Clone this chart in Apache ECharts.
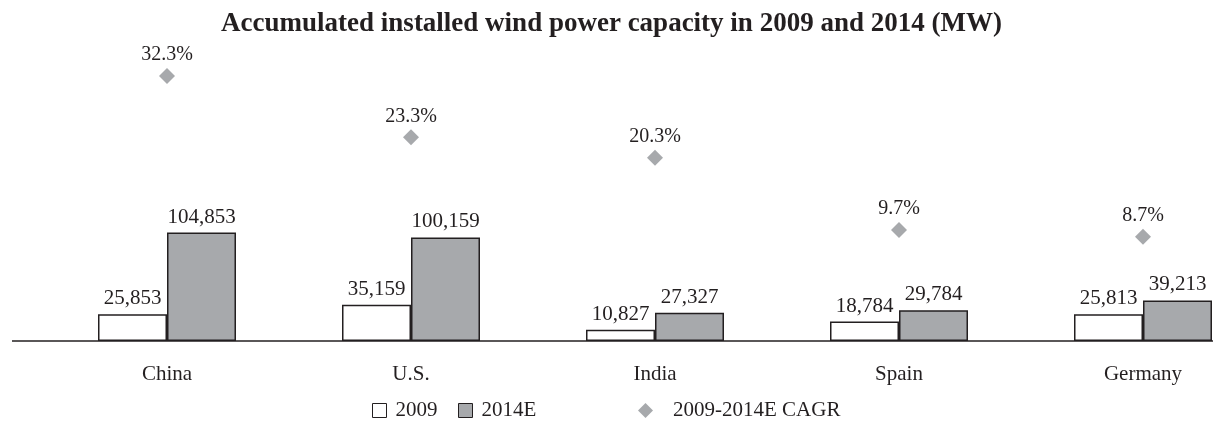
<!DOCTYPE html>
<html>
<head>
<meta charset="utf-8">
<script src="https://cdn.jsdelivr.net/npm/echarts@6/dist/echarts.min.js"></script>
<style>
  html, body { margin: 0; padding: 0; background: #ffffff; }
  #chart { width: 1223px; height: 424px; }
</style>
</head>
<body>
<div id="chart"></div>
<script>
// Accumulated installed wind power capacity (MW) and growth rate
const countries = ['China', 'U.S.', 'India', 'Spain', 'Germany'];
const capacity2009 = [25853, 35159, 10827, 18784, 25813];
const capacity2014E = [104853, 100159, 27327, 29784, 39213];
const cagr = [32.3, 23.3, 20.3, 9.7, 8.7];

const FONT = '"Liberation Serif", "DejaVu Serif", serif';
const INK = '#231f20';
const GREY = '#a7a9ac';

const chart = echarts.init(document.getElementById('chart'), null, { renderer: 'canvas' });

const fmtThousands = v => v.toLocaleString('en-US');

const legendText = { fontFamily: FONT, fontSize: 21, color: INK, padding: [0, 0, 0, 4] };

const option = {
  backgroundColor: '#ffffff',
  animation: false,
  textStyle: { fontFamily: FONT, color: INK },
  title: {
    text: 'Accumulated installed wind power capacity in 2009 and 2014 (MW)',
    left: 'center',
    top: 6,
    textStyle: { fontFamily: FONT, fontWeight: 'bold', fontSize: 27, color: INK }
  },
  legend: [
    {
      left: 372, bottom: 3, padding: 0, itemWidth: 14, itemHeight: 14,
      textStyle: legendText,
      data: [{ name: '2009', icon: 'rect', itemStyle: { borderWidth: 1 } }]
    },
    {
      left: 458, bottom: 3, padding: 0, itemWidth: 14, itemHeight: 14,
      textStyle: legendText,
      data: [{ name: '2014E', icon: 'rect', itemStyle: { borderWidth: 1 } }]
    },
    {
      left: 638, bottom: 3, padding: 0, itemWidth: 15, itemHeight: 15,
      textStyle: Object.assign({}, legendText, { padding: [0, 0, 0, 15] }),
      data: [{ name: '2009-2014E CAGR', icon: 'diamond', itemStyle: { opacity: 1 } }]
    }
  ],
  grid: { left: 167, top: 41, width: 976, height: 300, containLabel: false },
  xAxis: {
    type: 'category',
    data: countries,
    boundaryGap: false,
    axisLine: { show: false },
    axisTick: { show: false },
    axisLabel: { fontFamily: FONT, fontSize: 21, color: INK, margin: 23 }
  },
  yAxis: [
    { type: 'value', min: 0, max: 290000, show: false, splitLine: { show: false } },
    { type: 'value', min: -6.6, max: 37.45, show: false, splitLine: { show: false } }
  ],
  series: [
    {
      name: '2009',
      type: 'bar',
      data: capacity2009,
      barWidth: 69,
      barGap: '0%',
      clip: false,
      itemStyle: { color: '#ffffff', borderColor: INK, borderWidth: 1.5 },
      label: {
        show: true, position: 'top', distance: 5,
        fontFamily: FONT, fontSize: 21, color: INK,
        formatter: p => fmtThousands(p.value)
      }
    },
    {
      name: '2014E',
      type: 'bar',
      data: capacity2014E,
      barWidth: 69,
      barGap: '0%',
      clip: false,
      itemStyle: { color: GREY, borderColor: INK, borderWidth: 1.5 },
      label: {
        show: true, position: 'top', distance: 5,
        fontFamily: FONT, fontSize: 21, color: INK,
        formatter: p => fmtThousands(p.value)
      }
    },
    {
      name: '2009-2014E CAGR',
      type: 'scatter',
      yAxisIndex: 1,
      data: cagr,
      symbol: 'diamond',
      symbolSize: 16,
      clip: false,
      itemStyle: { color: GREY, opacity: 1 },
      label: {
        show: true, position: 'top', distance: 3,
        fontFamily: FONT, fontSize: 20, color: INK, opacity: 1,
        formatter: p => p.value.toFixed(1) + '%'
      }
    }
  ],
  graphic: [
    {
      type: 'line',
      shape: { x1: 12, y1: 341, x2: 1213, y2: 341 },
      style: { stroke: INK, lineWidth: 1.3 },
      z: 10
    }
  ]
};

chart.setOption(option);
</script>
</body>
</html>
